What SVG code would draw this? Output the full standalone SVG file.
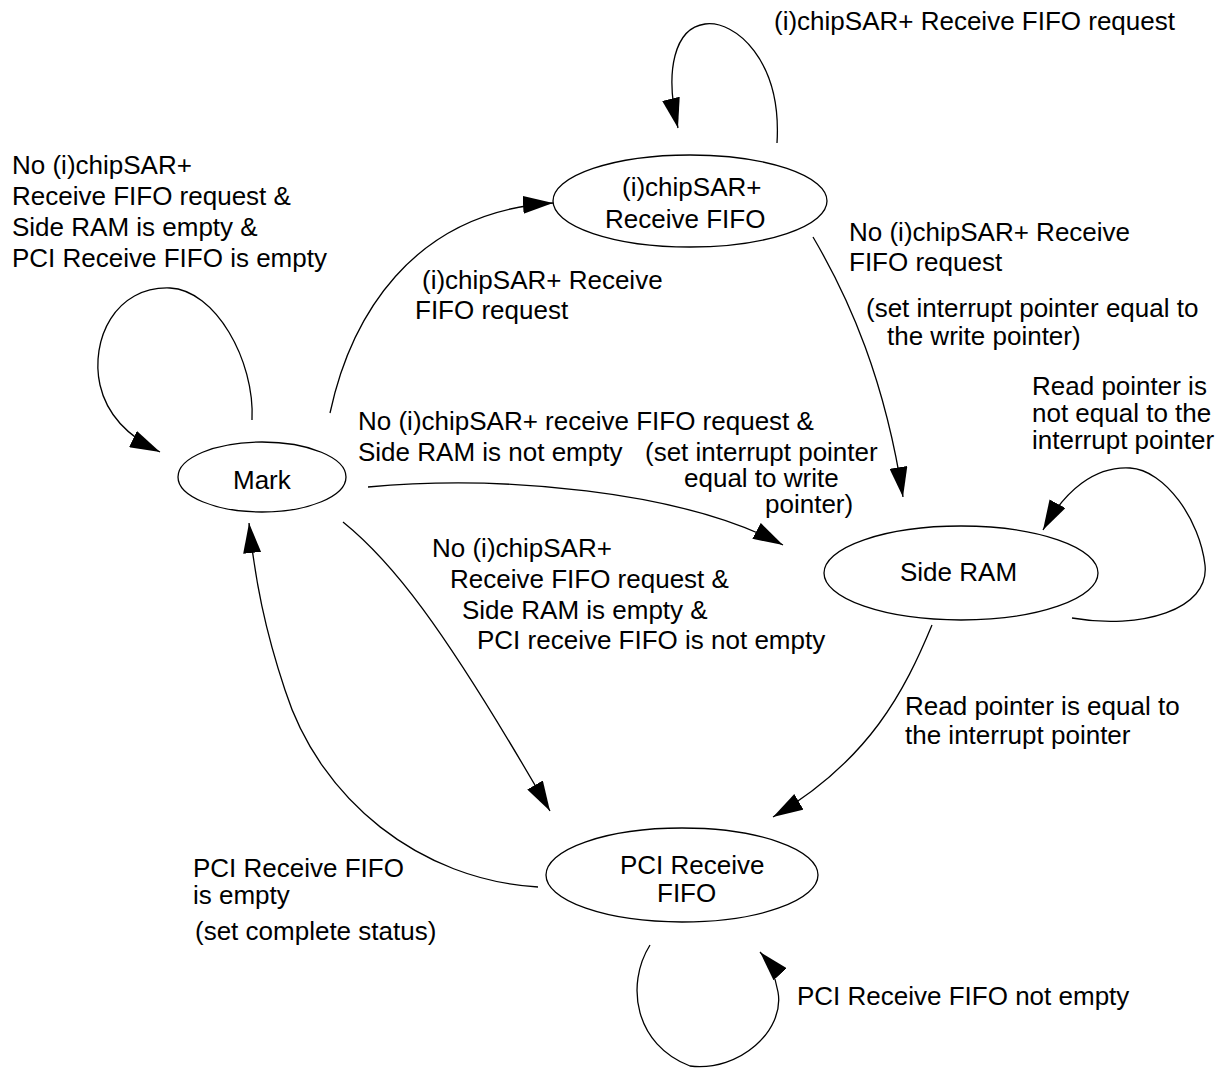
<svg xmlns="http://www.w3.org/2000/svg" width="1225" height="1071" viewBox="0 0 1225 1071">
<defs>
<style>
.n{fill:#fff;stroke:#000;stroke-width:1.3}
.c{fill:none;stroke:#000;stroke-width:1.3}
text{font-family:"Liberation Sans",Arial,Helvetica,sans-serif;font-size:26px;fill:#000}
</style>
<marker id="ah" markerUnits="userSpaceOnUse" markerWidth="30" markerHeight="18" refX="30" refY="9" orient="auto">
<path d="M0,0 L30,9 L0,18 z" fill="#000"/>
</marker>
</defs>
<rect width="1225" height="1071" fill="#fff"/>
<g id="connectors">
<path class="c" marker-end="url(#ah)" d="M777,143 C782,60 735,20 705,24 C675,28 664,70 678,128"/>
<path class="c" marker-end="url(#ah)" d="M252,420 C255,360 215,290 170,288 C115,286 90,340 100,385 C108,420 135,440 160,452"/>
<path class="c" marker-end="url(#ah)" d="M330,413 C350,320 410,212 553,203"/>
<path class="c" marker-end="url(#ah)" d="M813,237 C850,300 885,380 903,497"/>
<path class="c" marker-end="url(#ah)" d="M368,487 C500,475 680,490 783,545"/>
<path class="c" marker-end="url(#ah)" d="M343,522 C390,560 440,620 550,811"/>
<path class="c" marker-end="url(#ah)" d="M932,625 C905,690 870,760 773,817"/>
<path class="c" marker-end="url(#ah)" d="M1072,618 C1140,630 1210,610 1205,565 C1200,520 1165,470 1130,468 C1095,466 1065,490 1043,530"/>
<path class="c" marker-end="url(#ah)" d="M650,945 C625,985 635,1045 690,1066 C740,1072 785,1030 778,992 C775,975 770,963 760,952"/>
<path class="c" marker-end="url(#ah)" d="M538,887 C420,880 320,800 285,690 C265,630 255,580 249,523"/>
</g>
<g id="node-mark">
<ellipse class="n" cx="262" cy="477" rx="84" ry="35"/>
<text x="233" y="489">Mark</text>
</g>
<g id="node-ics-receive-fifo">
<ellipse class="n" cx="690" cy="201" rx="137" ry="46"/>
<text x="622" y="196">(i)chipSAR+</text>
<text x="605" y="228">Receive FIFO</text>
</g>
<g id="node-side-ram">
<ellipse class="n" cx="961" cy="573" rx="137" ry="47"/>
<text x="900" y="581">Side RAM</text>
</g>
<g id="node-pci-receive-fifo">
<ellipse class="n" cx="682" cy="875" rx="136" ry="47"/>
<text x="620" y="874">PCI Receive</text>
<text x="657" y="902">FIFO</text>
</g>
<g id="edge-labels">
<text x="774" y="30">(i)chipSAR+ Receive FIFO request</text>
<text x="12" y="174">No (i)chipSAR+</text>
<text x="12" y="205">Receive FIFO request &amp;</text>
<text x="12" y="236">Side RAM is empty &amp;</text>
<text x="12" y="267">PCI Receive FIFO is empty</text>
<text x="422" y="289">(i)chipSAR+ Receive</text>
<text x="415" y="319">FIFO request</text>
<text x="849" y="241">No (i)chipSAR+ Receive</text>
<text x="849" y="271">FIFO request</text>
<text x="866" y="317">(set interrupt pointer equal to</text>
<text x="887" y="345">the write pointer)</text>
<text x="358" y="430">No (i)chipSAR+ receive FIFO request &amp;</text>
<text x="358" y="461">Side RAM is not empty</text>
<text x="645" y="461">(set interrupt pointer</text>
<text x="684" y="487">equal to write</text>
<text x="765" y="513">pointer)</text>
<text x="1032" y="395">Read pointer is</text>
<text x="1032" y="422">not equal to the</text>
<text x="1032" y="449">interrupt pointer</text>
<text x="432" y="557">No (i)chipSAR+</text>
<text x="450" y="588">Receive FIFO request &amp;</text>
<text x="462" y="619">Side RAM is empty &amp;</text>
<text x="477" y="649">PCI receive FIFO is not empty</text>
<text x="905" y="715">Read pointer is equal to</text>
<text x="905" y="744">the interrupt pointer</text>
<text x="193" y="877">PCI Receive FIFO</text>
<text x="193" y="904">is empty</text>
<text x="195" y="940">(set complete status)</text>
<text x="797" y="1005">PCI Receive FIFO not empty</text>
</g>
</svg>
